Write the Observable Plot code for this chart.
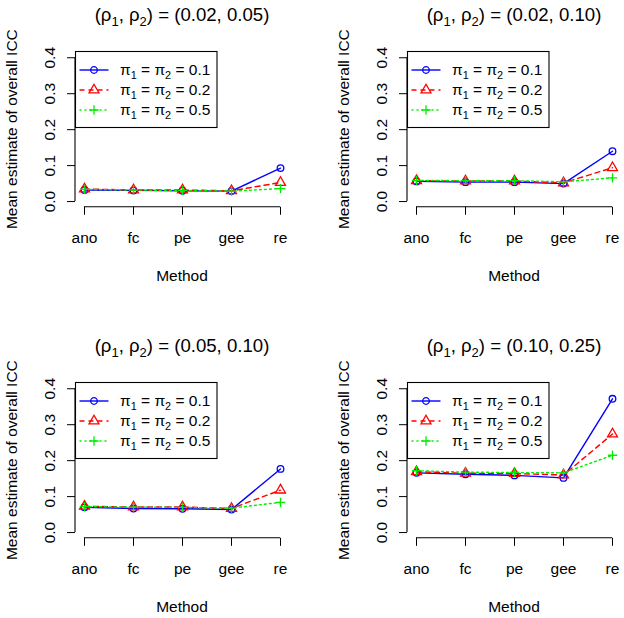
<!DOCTYPE html>
<html><head><meta charset="utf-8">
<script src="https://cdn.jsdelivr.net/npm/d3@7"></script>
<script src="https://cdn.jsdelivr.net/npm/@observablehq/plot@0.6"></script>
<style>
html,body{margin:0;padding:0;background:#fff;}
#fig{position:relative;width:624px;height:618px;overflow:hidden;background:#fff;}
.panel{position:absolute;width:332px;height:331px;}
</style></head><body><div id="fig"></div>
<script>
// ---------- data ----------
const methods = ["ano", "fc", "pe", "gee", "re"];
const yTicks = [0, 0.1, 0.2, 0.3, 0.4];
const rho1 = ["0.02", "0.02", "0.05", "0.10"];
const rho2 = ["0.05", "0.10", "0.10", "0.25"];
const piLabels = ["0.1", "0.2", "0.5"];

// panel 1: (0.02, 0.05)
const p1_pi01 = [0.032, 0.031, 0.030, 0.029, 0.093];
const p1_pi02 = [0.035, 0.032, 0.032, 0.030, 0.053];
const p1_pi05 = [0.034, 0.032, 0.031, 0.029, 0.036];
// panel 2: (0.02, 0.10)
const p2_pi01 = [0.056, 0.054, 0.054, 0.050, 0.140];
const p2_pi02 = [0.058, 0.057, 0.057, 0.052, 0.094];
const p2_pi05 = [0.059, 0.058, 0.058, 0.055, 0.066];
// panel 3: (0.05, 0.10)
const p3_pi01 = [0.070, 0.067, 0.066, 0.064, 0.177];
const p3_pi02 = [0.073, 0.071, 0.071, 0.067, 0.118];
const p3_pi05 = [0.072, 0.071, 0.070, 0.068, 0.084];
// panel 4: (0.10, 0.25)
const p4_pi01 = [0.166, 0.162, 0.159, 0.152, 0.372];
const p4_pi02 = [0.169, 0.165, 0.164, 0.160, 0.274];
const p4_pi05 = [0.172, 0.168, 0.167, 0.166, 0.215];

const panels = [
  [p1_pi01, p1_pi02, p1_pi05],
  [p2_pi01, p2_pi02, p2_pi05],
  [p3_pi01, p3_pi02, p3_pi05],
  [p4_pi01, p4_pi02, p4_pi05]
];

// ---------- style ----------
const FONT = "'Liberation Sans', Arial, Helvetica, sans-serif";
const colors = ["#0000ff", "#ff0000", "#00ee00"];
const dashes = [null, "5,4", "2,3"];
const symbols = ["circle", "triangle", "plus"];
const symR = [3.3, 3.7, 3.1];
const d3Sym = [d3.symbolCircle, d3.symbolTriangle, d3.symbolPlus];
const W = 332, H = 331;
const M = {left: 75, right: 43, top: 51.5, bottom: 124.2};

function richText(sel, parts, shift) {
  let down = false;
  parts.forEach(([t, sub]) => {
    const ts = sel.append("tspan").text(t);
    if (sub && !down) { ts.attr("dy", shift).attr("font-size", "70%"); down = true; }
    else if (!sub && down) { ts.attr("dy", -shift); down = false; }
  });
}

function axisLines(index, scales, values, dims) {
  const g = d3.create("svg:g").attr("stroke", "black").attr("stroke-width", 1.1).attr("fill", "none");
  const x0 = dims.marginLeft, yb = dims.height - dims.marginBottom;
  g.append("line").attr("x1", x0).attr("x2", x0)
    .attr("y1", scales.y(yTicks[0])).attr("y2", scales.y(yTicks[yTicks.length - 1]));
  g.append("line").attr("y1", yb).attr("y2", yb)
    .attr("x1", scales.x(methods[0])).attr("x2", scales.x(methods[methods.length - 1]));
  return g.node();
}

function makePanel(series, r1, r2) {
  const data = series.map(vals => vals.map((v, i) => ({method: methods[i], value: v})));
  const marks = [
    Plot.axisX({tickSize: 8, tickPadding: 17, label: null}),
    Plot.axisY({ticks: yTicks, tickSize: 8, tickPadding: 13, tickRotate: -90,
                tickFormat: d3.format(".1f"), label: null}),
    axisLines
  ];
  data.forEach((d, s) => {
    marks.push(Plot.line(d, {x: "method", y: "value", stroke: colors[s], strokeWidth: 1.4,
                             strokeDasharray: dashes[s]}));
  });
  data.forEach((d, s) => {
    marks.push(Plot.dot(d, {x: "method", y: "value", stroke: colors[s], fill: "none",
                            symbol: symbols[s], r: symR[s], strokeWidth: 1.3}));
  });
  const svg = Plot.plot({
    width: W, height: H,
    marginLeft: M.left, marginRight: M.right, marginTop: M.top, marginBottom: M.bottom,
    insetTop: 5.75, insetBottom: 5.75,
    x: {type: "point", domain: methods, padding: 0.16},
    y: {domain: [0, 0.4]},
    style: {fontFamily: FONT, fontSize: "15.5px", color: "black", background: "white", overflow: "visible"},
    marks
  });
  const s = d3.select(svg);
  const cx = (M.left + (W - M.right)) / 2;
  const cy = (M.top + (H - M.bottom)) / 2;
  // title
  const t = s.append("text").attr("x", cx).attr("y", 20.5).attr("text-anchor", "middle")
    .attr("font-size", 18.6).attr("font-family", FONT).attr("fill", "black");
  richText(t, [["(ρ"], ["1", true], [", ρ"], ["2", true], [`) = (${r1}, ${r2})`]], 5);
  // axis titles
  s.append("text").attr("transform", `translate(16.7,${cy}) rotate(-90)`).attr("text-anchor", "middle")
    .attr("font-size", 15.5).attr("font-family", FONT).attr("fill", "black")
    .text("Mean estimate of overall ICC");
  s.append("text").attr("x", cx).attr("y", 280.7).attr("text-anchor", "middle")
    .attr("font-size", 15.5).attr("font-family", FONT).attr("fill", "black").text("Method");
  // legend
  const lg = s.append("g").attr("transform", `translate(${M.left + 0.5},${M.top})`);
  lg.append("rect").attr("x", 0).attr("y", 0).attr("width", 141.5).attr("height", 76)
    .attr("fill", "white").attr("stroke", "black").attr("stroke-width", 1.1);
  piLabels.forEach((p, i) => {
    const yy = 18.5 + i * 20;
    lg.append("line").attr("x1", 4).attr("x2", 33).attr("y1", yy).attr("y2", yy)
      .attr("stroke", colors[i]).attr("stroke-width", 1.4).attr("stroke-dasharray", dashes[i]);
    lg.append("path").attr("transform", `translate(18.5,${yy})`)
      .attr("d", d3.symbol(d3Sym[i], symR[i] * symR[i] * Math.PI)())
      .attr("fill", "none").attr("stroke", colors[i]).attr("stroke-width", 1.3);
    const tx = lg.append("text").attr("x", 44.5).attr("y", yy + 5.3).attr("text-anchor", "start")
      .attr("font-size", 15.5).attr("font-family", FONT).attr("fill", "black");
    richText(tx, [["π"], ["1", true], [" = π"], ["2", true], [` = ${p}`]], 4);
  });
  return svg;
}

const fig = document.getElementById("fig");
panels.forEach((series, k) => {
  const div = document.createElement("div");
  div.className = "panel";
  div.style.left = (k % 2) * 332 + "px";
  div.style.top = Math.floor(k / 2) * 331 + "px";
  div.appendChild(makePanel(series, rho1[k], rho2[k]));
  fig.appendChild(div);
});
</script>
</body></html>
